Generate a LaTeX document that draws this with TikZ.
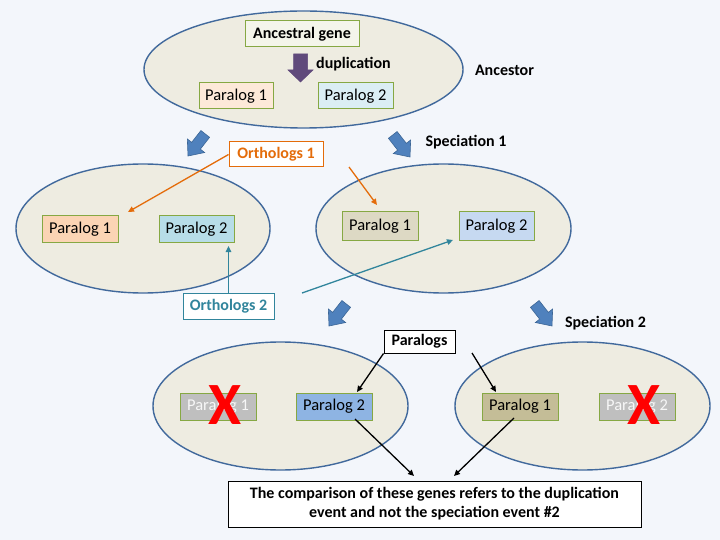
\documentclass[tikz,border=0pt]{standalone}
\usepackage{fontspec}
\setmainfont{Carlito}
\usetikzlibrary{shapes.geometric,arrows.meta}
\definecolor{bg}{HTML}{F3F6FB}
\definecolor{ellfill}{HTML}{EEECE1}
\definecolor{ellline}{HTML}{41699C}
\definecolor{boxline}{HTML}{86A843}
\definecolor{arrblue}{HTML}{4F81BD}
\definecolor{arrblueline}{HTML}{3C6696}
\definecolor{purp}{HTML}{604A7B}
\definecolor{orng}{HTML}{E46C0A}
\definecolor{teal2}{HTML}{31859C}
\definecolor{geneA}{HTML}{F4F5EA}
\definecolor{peachA}{HTML}{FDE9D9}
\definecolor{peachB}{HTML}{FBD4B4}
\definecolor{blueA}{HTML}{DBEEF4}
\definecolor{blueB}{HTML}{B7DDE8}
\definecolor{blueC}{HTML}{C6D9F1}
\definecolor{blueD}{HTML}{8EB4E3}
\definecolor{tanA}{HTML}{DDD9C4}
\definecolor{tanB}{HTML}{C4BD97}
\definecolor{grayA}{HTML}{BFBFBF}
\tikzset{
  ell/.style={ellipse, draw=ellline, line width=1.4pt, fill=ellfill, inner sep=0pt},
  gene/.style={draw=boxline, line width=1pt, inner sep=0pt, minimum width=76pt, minimum height=27pt, font=\fontsize{16.5}{18}\selectfont},
  lbl/.style={font=\fontsize{16}{18}\selectfont\bfseries, inner sep=0pt},
  xmark/.style={text=red, font=\fontsize{60}{60}\selectfont\bfseries, inner sep=0pt},
  orthbox/.style={line width=1pt, fill=white, inner sep=0pt, font=\fontsize{16}{18}\selectfont\bfseries},
  oarrow/.style={line width=1.3pt, -{Triangle[length=6pt,width=5.5pt]}},
  blockarrow/.pic={\filldraw[fill=arrblue, draw=arrblueline, line width=0.6pt]
     (-28,-5.5) -- (-13,-5.5) -- (-13,-11) -- (0,0) -- (-13,11) -- (-13,5.5) -- (-28,5.5) -- cycle;},
  purparrow/.pic={\filldraw[fill=purp, draw=purp, line width=0.5pt]
     (-28,-7) -- (-12,-7) -- (-12,-12.5) -- (0,0) -- (-12,12.5) -- (-12,7) -- (-28,7) -- cycle;}
}
\begin{document}
\begin{tikzpicture}[x=1pt, y=-1pt]
\fill[bg] (0,0) rectangle (720,540);
\useasboundingbox (0,0) rectangle (720,540);

% ellipses
\node[ell, minimum width=319pt, minimum height=117pt] (anc) at (303.5,69.5) {};
\node[ell, minimum width=254pt, minimum height=129pt] (sl) at (143,228.5) {};
\node[ell, minimum width=255pt, minimum height=129pt] (sr) at (443.5,228.5) {};
\node[ell, minimum width=255pt, minimum height=128pt] (bl) at (280.5,406) {};
\node[ell, minimum width=255pt, minimum height=128pt] (br) at (582.5,406) {};

% block arrows
\pic[rotate=-90] at (300.5,82) {purparrow};
\pic[rotate=232] at (188,156) {blockarrow};
\pic[rotate=-52] at (410,157) {blockarrow};
\pic[rotate=232] at (329,326) {blockarrow};
\pic[rotate=-52] at (552,326) {blockarrow};

% ancestor genes
\node[gene, fill=geneA, minimum width=114pt, minimum height=26pt, font=\fontsize{16}{18}\selectfont\bfseries] (gene) at (302,34) {Ancestral gene};
\node[gene, fill=peachA, minimum width=74pt, minimum height=26pt] (tp1) at (236,96) {Paralog 1};
\node[gene, fill=blueA, minimum width=75pt, minimum height=26pt] (tp2) at (355.5,96) {Paralog 2};
\node[lbl, anchor=west] (dup) at (316,64) {duplication};
\node[lbl] (ancl) at (504.5,70) {Ancestor};
\node[lbl] (sp1) at (466,142) {Speciation 1};
\node[lbl] (sp2) at (605.5,323) {Speciation 2};

% species 1 genes
\node[gene, fill=peachB, minimum height=26pt] (lp1) at (80,229) {Paralog 1};
\node[gene, fill=blueB, minimum width=75pt, minimum height=26pt] (lp2) at (196.5,229) {Paralog 2};
\node[gene, fill=tanA, minimum height=28pt] (rp1) at (380,226) {Paralog 1};
\node[gene, fill=blueC, minimum width=75pt, minimum height=28pt] (rp2) at (496.5,226) {Paralog 2};

% species 2 genes
\node[gene, fill=grayA, text=white!88!grayA] (bp1) at (218,406.5) {Paralog 1};
\node[gene, fill=blueD] (bp2) at (334,406.5) {Paralog 2};
\node[gene, fill=tanB] (bq1) at (520,406.5) {Paralog 1};
\node[gene, fill=grayA, text=white!88!grayA] (bq2) at (637,406.5) {Paralog 2};
\node[xmark] (x1) at (225,405) {X};
\node[xmark] (x2) at (644,405) {X};

% ortholog labels and arrows
\node[orthbox, draw=orng, text=orng, minimum width=94pt, minimum height=25pt] (o1) at (276,154.5) {Orthologs 1};
\node[orthbox, draw=teal2, text=teal2, minimum width=91pt, minimum height=26pt] (o2) at (228.5,306) {Orthologs 2};
\coordinate (o1e) at (128,212);
\coordinate (o1s) at (349,167);
\coordinate (o1f) at (377,205);
\coordinate (o2e) at (228.5,246);
\coordinate (o2s) at (302,293);
\coordinate (o2f) at (453,240);
\draw[oarrow, draw=orng] (o1.west) -- (o1e);
\draw[oarrow, draw=orng] (o1s) -- (o1f);
\draw[oarrow, draw=teal2] (o2.north) -- (o2e);
\draw[oarrow, draw=teal2] (o2s) -- (o2f);

% paralogs and comparison
\node[orthbox, draw=black, text=black, minimum width=71pt, minimum height=23pt] (pl) at (419.5,341.5) {Paralogs};
\node[orthbox, draw=black, text=black, minimum width=413pt, minimum height=46pt, align=center, font=\fontsize{16}{19}\selectfont\bfseries] (cmp) at (434.5,504) {The comparison of these genes refers to the duplication\\event and not the speciation event \#2};
\coordinate (pls) at (472,353);
\coordinate (ple1) at (357,392);
\coordinate (ple2) at (496,392);
\coordinate (ce1) at (414,476);
\coordinate (ce2) at (454,476);
\coordinate (b2s) at (355,419);
\coordinate (q1s) at (514,418);
\draw[oarrow, draw=black] (pl.south west) -- (ple1);
\draw[oarrow, draw=black] (pls) -- (ple2);
\draw[oarrow, draw=black] (b2s) -- (ce1);
\draw[oarrow, draw=black] (q1s) -- (ce2);
\end{tikzpicture}
\end{document}
